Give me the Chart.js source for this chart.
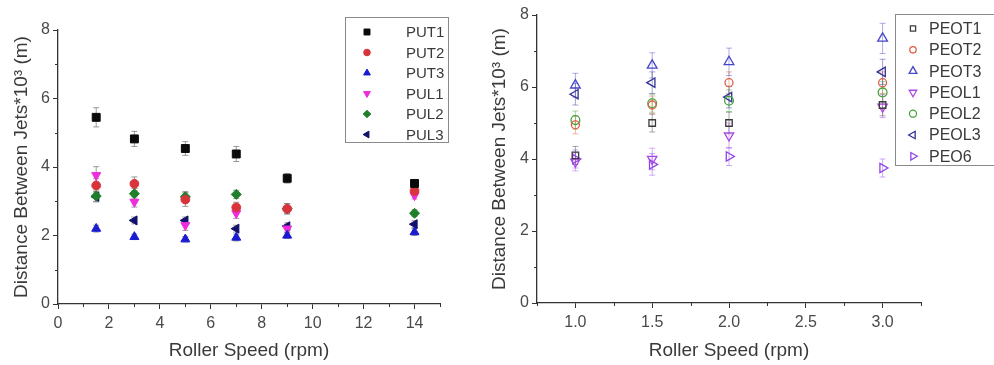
<!DOCTYPE html>
<html>
<head>
<meta charset="utf-8">
<script src="https://cdn.jsdelivr.net/npm/chart.js@4/dist/chart.umd.min.js"></script>
<style>
  html, body { margin: 0; padding: 0; background: #fff; }
  #wrap { position: relative; width: 994px; height: 365px; overflow: hidden; background: #fff; }
  #c1 { position: absolute; left: 0; top: 0; }
  #c2 { position: absolute; left: 470px; top: 0; }
</style>
</head>
<body>
<div id="wrap">
  <canvas id="c1" width="470" height="365"></canvas>
  <canvas id="c2" width="524" height="365"></canvas>
</div>
<script>
// ---------- DATA (left panel: PU) ----------
const leftSpeeds = [1.5, 3, 5, 7, 9, 14];
const put1 = [5.45, 4.82, 4.54, 4.38, 3.67, 3.52];
const put2 = [3.46, 3.51, 3.05, 2.82, 2.78, 3.30];
const put3 = [2.20, 1.96, 1.89, 1.94, 2.00, 2.10];
const pul1 = [3.76, 2.98, 2.30, 2.65, 2.20, 3.17];
const pul2 = [3.15, 3.22, 3.13, 3.20, 2.78, 2.65];
const pul3 = [3.13, 2.44, 2.44, 2.20, 2.27, 2.33];
const put1Err = [0.28, 0.22, 0.20, 0.22, 0.14, 0.08];
const put2Err = [0.20, 0.20, 0.20, 0.15, 0.15, 0.10];
const put3Err = [0.10, 0.08, 0.08, 0.10, 0.08, 0.10];
const pul1Err = [0.25, 0.15, 0.15, 0.15, 0.10, 0.10];
const pul2Err = [0.15, 0.15, 0.15, 0.12, 0.15, 0.10];
const pul3Err = [0.15, 0.10, 0.10, 0.10, 0.10, 0.10];
const leftXTicks = [0, 2, 4, 6, 8, 10, 12, 14];
const leftXMinor = [1, 3, 5, 7, 9, 11, 13, 15];
const leftYTicks = [0, 2, 4, 6, 8];
const leftYMinor = [1, 3, 5, 7];

// ---------- DATA (right panel: PEO) ----------
const rightSpeeds = [1.0, 1.5, 2.0, 3.0];
const peot1 = [4.10, 5.00, 5.00, 5.50];
const peot2 = [4.95, 5.50, 6.12, 6.12];
const peot3 = [6.05, 6.60, 6.70, 7.35];
const peol1 = [3.92, 4.00, 4.65, 5.45];
const peol2 = [5.08, 5.55, 5.62, 5.85];
const peol3 = [5.80, 6.12, 5.72, 6.42];
const peo6  = [4.00, 3.85, 4.07, 3.75];
const peot1Err = [0.25, 0.25, 0.30, 0.30];
const peot2Err = [0.25, 0.25, 0.30, 0.30];
const peot3Err = [0.33, 0.35, 0.38, 0.42];
const peol1Err = [0.25, 0.30, 0.35, 0.30];
const peol2Err = [0.25, 0.25, 0.30, 0.30];
const peol3Err = [0.30, 0.30, 0.30, 0.35];
const peo6Err  = [0.25, 0.30, 0.25, 0.25];
const rightXTicks = [1.0, 1.5, 2.0, 2.5, 3.0];
const rightXMinor = [0.75, 1.25, 1.75, 2.25, 2.75, 3.25];
const rightYTicks = [0, 2, 4, 6, 8];
const rightYMinor = [1, 3, 5, 7];

const FONT = "'Liberation Sans', Arial, Helvetica, sans-serif";
const yTitle = 'Distance Between Jets*10\u00B3 (m)';
const xTitle = 'Roller Speed (rpm)';

function pts(xs, ys) { return xs.map((x, i) => ({ x: x, y: ys[i] })); }

function ds(label, xs, ys, errs, style) {
  return Object.assign({
    label: label,
    data: pts(xs, ys),
    errors: errs,
    showLine: false,
    pointHoverRadius: 0
  }, style);
}

// ---------- plugins ----------
const errorBars = {
  id: 'errorBars',
  beforeDatasetsDraw(chart) {
    const ctx = chart.ctx;
    const ys = chart.scales.y;
    chart.data.datasets.forEach((d, i) => {
      const meta = chart.getDatasetMeta(i);
      if (!d.errors) return;
      ctx.save();
      ctx.strokeStyle = d.errorColor || '#888';
      ctx.lineWidth = 1;
      meta.data.forEach((el, j) => {
        const v = d.data[j].y, e = d.errors[j];
        const x = el.x;
        const t = ys.getPixelForValue(v + e), b = ys.getPixelForValue(v - e);
        ctx.beginPath();
        ctx.moveTo(x, t); ctx.lineTo(x, b);
        ctx.moveTo(x - 3, t); ctx.lineTo(x + 3, t);
        ctx.moveTo(x - 3, b); ctx.lineTo(x + 3, b);
        ctx.stroke();
      });
      ctx.restore();
    });
  }
};

const minorTicks = {
  id: 'minorTicks',
  afterDraw(chart, args, opts) {
    const ctx = chart.ctx, a = chart.chartArea;
    ctx.save();
    ctx.strokeStyle = '#333';
    ctx.lineWidth = 1;
    ctx.beginPath();
    (opts.x || []).forEach(v => {
      const px = Math.round(chart.scales.x.getPixelForValue(v)) + 0.5;
      ctx.moveTo(px, a.bottom); ctx.lineTo(px, a.bottom + 3);
    });
    (opts.y || []).forEach(v => {
      const py = Math.round(chart.scales.y.getPixelForValue(v)) + 0.5;
      ctx.moveTo(a.left - 3, py); ctx.lineTo(a.left, py);
    });
    ctx.stroke();
    ctx.restore();
  }
};

const boxLegend = {
  id: 'boxLegend',
  afterDraw(chart, args, o) {
    const ctx = chart.ctx;
    ctx.save();
    ctx.fillStyle = '#fff';
    ctx.fillRect(o.x, o.y, o.w, o.h);
    ctx.strokeStyle = '#8a8a8a';
    ctx.lineWidth = 1;
    ctx.strokeRect(o.x + 0.5, o.y + 0.5, o.w, o.h);
    ctx.font = o.fontSize + 'px ' + FONT;
    ctx.textBaseline = 'middle';
    ctx.textAlign = 'left';
    chart.data.datasets.forEach((d, i) => {
      const my = o.firstRow + i * o.rowH;
      ctx.fillStyle = d.pointBackgroundColor;
      ctx.strokeStyle = d.pointBorderColor;
      ctx.lineWidth = d.pointBorderWidth || 1;
      Chart.helpers.drawPoint(ctx, {
        pointStyle: d.pointStyle,
        rotation: d.pointRotation || 0,
        radius: d.pointRadius * o.markerScale,
        borderWidth: d.pointBorderWidth || 1
      }, o.markerX, my);
      ctx.fillStyle = '#3a3a3a';
      ctx.fillText(d.label, o.textX, my + 1);
    });
    ctx.restore();
  }
};

function axes(xMin, xMax, xTicks, yTicks, yWidth, xHeight, xFmt, yTitlePad) {
  const tickFont = { family: FONT, size: 16 };
  const titleFont = { family: FONT, size: 19 };
  return {
    x: {
      type: 'linear', min: xMin, max: xMax,
      afterBuildTicks: s => { s.ticks = xTicks.map(v => ({ value: v })); },
      afterFit: s => { s.height = xHeight; },
      grid: { display: true, drawOnChartArea: false, drawTicks: true, tickLength: 5, color: '#333', tickWidth: 1 },
      border: { display: true, color: '#333', width: 1.3 },
      ticks: { font: tickFont, color: '#4a4a4a', padding: 5, maxRotation: 0, autoSkip: false, callback: xFmt },
      title: { display: true, text: xTitle, font: titleFont, color: '#3a3a3a', padding: { top: 0, bottom: 3 } }
    },
    y: {
      type: 'linear', min: 0, max: 8,
      afterBuildTicks: s => { s.ticks = yTicks.map(v => ({ value: v })); },
      afterFit: s => { s.width = yWidth; },
      grid: { display: true, drawOnChartArea: false, drawTicks: true, tickLength: 5, color: '#333', tickWidth: 1 },
      border: { display: true, color: '#333', width: 1.3 },
      ticks: { font: tickFont, color: '#4a4a4a', padding: 3, autoSkip: false, callback: v => String(v) },
      title: { display: true, text: yTitle, font: titleFont, color: '#3a3a3a', padding: { top: yTitlePad, bottom: 0 } }
    }
  };
}

// ---------- left chart ----------
const filled = (c, shape, r, rot) => ({
  pointStyle: shape, pointRadius: r, pointRotation: rot || 0,
  pointBackgroundColor: c, pointBorderColor: c, pointBorderWidth: 1,
  errorColor: 'rgba(120,120,120,0.75)'
});

new Chart(document.getElementById('c1'), {
  type: 'scatter',
  data: {
    datasets: [
      ds('PUT1', leftSpeeds, put1, put1Err, filled('#0a0a0a', 'rect', 5.6)),
      ds('PUT2', leftSpeeds, put2, put2Err, filled('#d8343c', 'circle', 4.4)),
      ds('PUT3', leftSpeeds, put3, put3Err, filled('#1a1ad0', 'triangle', 5.2)),
      ds('PUL1', leftSpeeds, pul1, pul1Err, filled('#ee2cdc', 'triangle', 5.2, 180)),
      ds('PUL2', leftSpeeds, pul2, pul2Err, filled('#1f7f2a', 'rectRot', 5)),
      ds('PUL3', leftSpeeds, pul3, pul3Err, filled('#12126e', 'triangle', 5.2, -90))
    ]
  },
  options: {
    responsive: false, animation: false, devicePixelRatio: 1, events: [],
    layout: { padding: { left: 0, top: 30, right: 30, bottom: 0 } },
    scales: axes(0, 15, leftXTicks, leftYTicks, 58, 61, v => String(v), 10),
    plugins: {
      legend: { display: false }, tooltip: { enabled: false },
      minorTicks: { x: leftXMinor, y: leftYMinor },
      boxLegend: { x: 345, y: 17, w: 103, h: 125, firstRow: 32, rowH: 20.5, markerX: 367, textX: 406, fontSize: 15, markerScale: 0.75 }
    }
  },
  plugins: [errorBars, minorTicks, boxLegend]
});

// ---------- right chart ----------
const open = (c, shape, r, rot) => ({
  pointStyle: shape, pointRadius: r, pointRotation: rot || 0,
  pointBackgroundColor: 'rgba(255,255,255,0)', pointBorderColor: c, pointBorderWidth: 1.3,
  errorColor: c.replace('1)', '0.45)')
});

new Chart(document.getElementById('c2'), {
  type: 'scatter',
  data: {
    datasets: [
      ds('PEOT1', rightSpeeds, peot1, peot1Err, open('rgba(60,60,60,1)', 'rect', 4.6)),
      ds('PEOT2', rightSpeeds, peot2, peot2Err, open('rgba(222,96,70,1)', 'circle', 4)),
      ds('PEOT3', rightSpeeds, peot3, peot3Err, open('rgba(70,70,200,1)', 'triangle', 5.6)),
      ds('PEOL1', rightSpeeds, peol1, peol1Err, open('rgba(170,70,230,1)', 'triangle', 5.4, 180)),
      ds('PEOL2', rightSpeeds, peol2, peol2Err, open('rgba(70,160,60,1)', 'circle', 4.4)),
      ds('PEOL3', rightSpeeds, peol3, peol3Err, open('rgba(50,50,150,1)', 'triangle', 5.4, -90)),
      ds('PEO6', rightSpeeds, peo6, peo6Err, open('rgba(140,70,230,1)', 'triangle', 5.4, 90))
    ]
  },
  options: {
    responsive: false, animation: false, devicePixelRatio: 1, events: [],
    layout: { padding: { left: 0, top: 15, right: 73, bottom: 0 } },
    scales: axes(0.75, 3.25, rightXTicks, rightYTicks, 67, 62, v => Number(v).toFixed(1), 18),
    plugins: {
      legend: { display: false }, tooltip: { enabled: false },
      minorTicks: { x: rightXMinor, y: rightYMinor },
      boxLegend: { x: 425, y: 14, w: 110, h: 151, firstRow: 28.5, rowH: 21.3, markerX: 443, textX: 459, fontSize: 16, markerScale: 0.8 }
    }
  },
  plugins: [errorBars, minorTicks, boxLegend]
});
</script>
</body>
</html>
